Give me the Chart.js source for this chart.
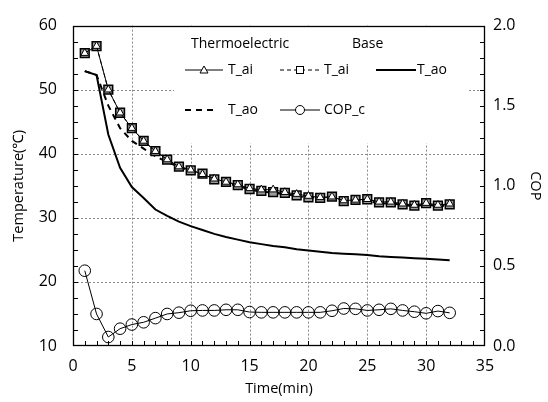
<!DOCTYPE html>
<html><head><meta charset="utf-8">
<script src="https://cdn.jsdelivr.net/npm/chart.js@4"></script>
<style>html,body{margin:0;padding:0;background:#fff}#wrap{width:548px;height:402px}</style>
</head><body><div id="wrap"><canvas id="c" width="548" height="402"></canvas></div>
<script>
const minutes = [1,2,3,4,5,6,7,8,9,10,11,12,13,14,15,16,17,18,19,20,21,22,23,24,25,26,27,28,29,30,31,32];
const thermoTai = [55.7,56.8,50.0,46.4,44.0,42.0,40.4,39.1,38.0,37.5,36.8,36.1,35.6,35.2,34.6,34.4,34.4,34.0,33.7,33.4,33.2,33.3,32.7,32.8,32.9,32.5,32.5,32.2,32.0,32.3,32.0,32.2];
const baseTai   = [55.7,56.8,50.0,46.4,44.0,42.0,40.4,39.1,38.0,37.4,36.9,36.0,35.6,35.1,34.5,34.2,34.0,33.9,33.5,33.2,33.1,33.3,32.6,32.8,32.9,32.4,32.4,32.1,31.9,32.3,31.9,32.1];
const thermoTao = [52.9,52.3,47.5,44.0,42.0,40.8,39.6,38.7,38.0,37.3,36.6,35.9,35.4,35.0,34.4,34.1,33.9,33.7,33.4,33.1,33.0,33.1,32.5,32.6,32.7,32.2,32.3,32.0,31.8,32.1,31.8,32.0];
const baseTao   = [52.9,52.3,43.0,37.8,34.8,33.1,31.3,30.3,29.4,28.7,28.1,27.5,27.0,26.6,26.2,25.9,25.6,25.4,25.1,24.9,24.7,24.5,24.4,24.3,24.2,24.0,23.9,23.8,23.7,23.6,23.5,23.4];
const copC      = [0.47,0.20,0.056,0.108,0.134,0.148,0.174,0.20,0.208,0.22,0.222,0.222,0.226,0.226,0.212,0.21,0.21,0.21,0.21,0.21,0.21,0.22,0.234,0.232,0.222,0.226,0.232,0.222,0.214,0.204,0.218,0.207];
const xTickValues = [0,5,10,15,20,25,30,35];
const tempTickValues = [10,20,30,40,50,60];
const copTickValues = [0,0.5,1.0,1.5,2.0];

const FONT = "'Open Sans', 'Noto Sans', sans-serif";
const pts = arr => minutes.map((m,i)=>({x:m,y:arr[i]}));

const decor = {
  id:'decor',
  beforeDatasetsDraw(chart){
    const {ctx, chartArea:a, scales} = chart;
    const x = scales.x, y = scales.y, y1 = scales.y1;
    const line=(x1,y1_,x2,y2)=>{ctx.beginPath();ctx.moveTo(x1,y1_);ctx.lineTo(x2,y2);ctx.stroke();};
    ctx.save();
    ctx.strokeStyle='#8a8a8a'; ctx.lineWidth=1; ctx.setLineDash([2,2]);
    for(const v of [5,10,15,20,25,30]){const px=Math.round(x.getPixelForValue(v))+0.5; line(px,a.top,px,a.bottom);}
    for(const v of [20,30,40,50]){const py=Math.round(y.getPixelForValue(v))+0.5; line(a.left,py,a.right,py);}
    ctx.setLineDash([]);
    // legend box
    ctx.fillStyle='#fff'; ctx.fillRect(174, a.top+1, 295, 117);
    // minor ticks
    ctx.strokeStyle='#000'; ctx.lineWidth=1;
    for(let v=1; v<35; v++){const px=Math.round(x.getPixelForValue(v))+0.5; line(px,a.bottom,px,a.bottom-5);}
    for(let v=12.5; v<60; v+=2.5){const py=Math.round(y.getPixelForValue(v))+0.5; line(a.left,py,a.left+5,py);}
    for(let k=1; k<20; k++){const py=Math.round(y1.getPixelForValue(k/10))+0.5; line(a.right,py,a.right-5,py);}
    ctx.lineWidth=1.3;
    ctx.strokeRect(Math.round(a.left)+0.5, Math.round(a.top)+0.5, Math.round(a.width)-1, Math.round(a.height)-1);
    // legend
    ctx.fillStyle='#000'; ctx.font="14px "+FONT; ctx.textBaseline='middle'; ctx.textAlign='left';
    ctx.fillText('Thermoelectric',191,44);
    ctx.fillText('Base',352,44);
    const r1=70, r2=110;
    ctx.lineWidth=1; line(185,r1,223,r1);
    ctx.beginPath(); ctx.moveTo(204,r1-4); ctx.lineTo(208,r1+3); ctx.lineTo(200,r1+3); ctx.closePath(); ctx.fillStyle='#fff'; ctx.fill(); ctx.stroke();
    ctx.fillStyle='#000'; ctx.fillText('T_ai',228,r1);
    ctx.setLineDash([4,3]); line(280,r1,320,r1); ctx.setLineDash([]);
    ctx.fillStyle='#fff'; ctx.fillRect(296.5,r1-3.5,7,7); ctx.strokeRect(296.5,r1-3.5,7,7);
    ctx.fillStyle='#000'; ctx.fillText('T_ai',324,r1);
    ctx.lineWidth=2; line(376,r1,416,r1);
    ctx.fillText('T_ao',417,r1);
    ctx.setLineDash([6,5]); line(185,r2,218,r2); ctx.setLineDash([]);
    ctx.fillText('T_ao',228,r2);
    ctx.lineWidth=1; line(280,r2,320,r2);
    ctx.beginPath(); ctx.arc(300,r2,4.5,0,Math.PI*2); ctx.fillStyle='#fff'; ctx.fill(); ctx.stroke();
    ctx.fillStyle='#000'; ctx.fillText('COP_c',324,r2);
    ctx.restore();
  }
};

new Chart(document.getElementById('c'), {
  type:'line',
  data:{datasets:[
    {label:'Thermoelectric T_ai', data:pts(thermoTai), yAxisID:'y', order:0, borderColor:'#000', borderWidth:1,
     pointStyle:'triangle', pointRadius:4.5, pointBackgroundColor:'#fff', pointBorderColor:'#000', pointBorderWidth:1, tension:0},
    {label:'Base T_ai', data:pts(baseTai), yAxisID:'y', order:1, borderColor:'#000', borderWidth:1, borderDash:[4,3],
     pointStyle:'rect', pointRadius:6.2, pointBackgroundColor:'#9a9a9a', pointBorderColor:'#000', pointBorderWidth:1.5, tension:0},
    {label:'Base T_ao', data:pts(baseTao), yAxisID:'y', order:2, borderColor:'#000', borderWidth:2, pointRadius:0, tension:0},
    {label:'Thermoelectric T_ao', data:pts(thermoTao), yAxisID:'y', order:3, borderColor:'#000', borderWidth:2, borderDash:[6,5], pointRadius:0, tension:0},
    {label:'COP_c', data:pts(copC), yAxisID:'y1', order:4, borderColor:'#000', borderWidth:1,
     pointStyle:'circle', pointRadius:5.8, pointBackgroundColor:'rgba(255,255,255,0)', pointBorderColor:'#000', pointBorderWidth:1, tension:0}
  ]},
  options:{
    responsive:false, animation:false, devicePixelRatio:1,
    layout:{padding:{top:12,left:0,right:0,bottom:0}},
    plugins:{legend:{display:false}, tooltip:{enabled:false}},
    scales:{
      x:{type:'linear', min:0, max:35, afterFit:s=>{s.height=56;},
         afterBuildTicks:s=>{s.ticks=xTickValues.map(v=>({value:v}));},
         grid:{display:false, drawTicks:false}, border:{display:false},
         ticks:{padding:11, color:'#000', font:{family:FONT,size:16}},
         title:{display:true, text:'Time(min)', color:'#000', font:{family:FONT,size:14.5}, padding:{top:0,bottom:4}}},
      y:{type:'linear', position:'left', min:10, max:60, afterFit:s=>{s.width=73;},
         afterBuildTicks:s=>{s.ticks=tempTickValues.map(v=>({value:v}));},
         grid:{display:false, drawTicks:false}, border:{display:false},
         ticks:{padding:16, color:'#000', font:{family:FONT,size:16}},
         title:{display:true, text:'Temperature(℃)', color:'#000', font:{family:FONT,size:14.5}, padding:{top:10,bottom:0}}},
      y1:{type:'linear', position:'right', min:0, max:2, afterFit:s=>{s.width=63;},
         afterBuildTicks:s=>{s.ticks=copTickValues.map(v=>({value:v}));},
         grid:{display:false, drawTicks:false}, border:{display:false},
         ticks:{padding:8, color:'#000', font:{family:FONT,size:16}, callback:v=>Number(v).toFixed(1)},
         title:{display:true, text:'COP', color:'#000', font:{family:FONT,size:14.5}, padding:{top:4,bottom:0}}}
    }
  },
  plugins:[decor]
});
</script></body></html>
